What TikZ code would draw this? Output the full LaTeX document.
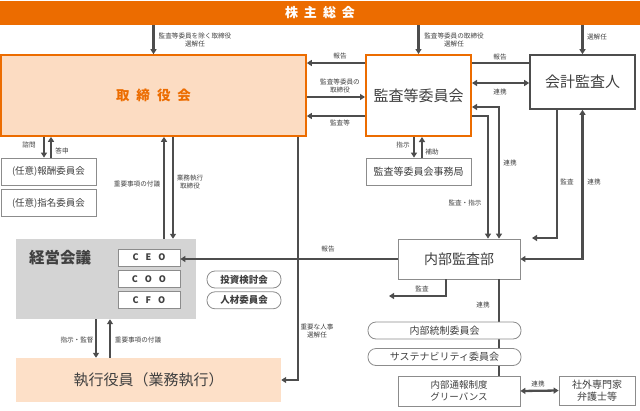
\documentclass[tikz,border=0pt]{standalone}
\usepackage{fontspec}
\setmainfont{Noto Sans CJK JP}
\usepackage{tikz}
\usetikzlibrary{arrows.meta}
\usetikzlibrary{positioning}
\definecolor{orangeM}{RGB}{236,108,0}
\definecolor{peach}{RGB}{252,220,194}
\definecolor{peachL}{RGB}{253,224,200}
\definecolor{txtgray}{RGB}{64,64,64}
\definecolor{linegray}{RGB}{77,77,77}
\definecolor{boxgray}{RGB}{140,140,140}
\definecolor{meetgray}{RGB}{212,212,212}
\tikzset{>={Triangle[length=5pt,width=6pt]}}

\begin{document}
\begin{tikzpicture}[x=1pt, y=-1pt,
	conn/.style={line width=2.3pt, draw=linegray},
	lbl/.style={font=\fontsize{6.6}{8}\selectfont, text=txtgray, inner sep=0pt, align=center},
	bigbox/.style={rectangle, inner sep=0pt, text=txtgray, font=\fontsize{15}{18}\selectfont},
	subbox/.style={rectangle, draw=boxgray, line width=0.8pt, fill=white, inner sep=0pt, text=txtgray, font=\fontsize{9.5}{12}\selectfont, align=center},
	pill/.style={subbox, rounded corners=8pt, minimum width=153pt, minimum height=17pt},
	rolebox/.style={subbox, minimum width=62pt, minimum height=17pt, font=\fontsize{9}{10}\selectfont\bfseries}]
	\useasboundingbox (0,0) rectangle (640,410);

	\node[fill=orangeM, minimum width=640pt, minimum height=24pt, inner sep=0pt, text=white, font=\fontsize{13}{15}\selectfont\bfseries] (soukai) at (320,13) {株\hspace{6pt}主\hspace{6pt}総\hspace{6pt}会};
	\node[bigbox, draw=orangeM, line width=1.6pt, fill=peach, minimum width=305pt, minimum height=81pt, text=orangeM, font=\fontsize{13.5}{15}\selectfont\bfseries] (tori) at (153.5,95.5) {取\hspace{7pt}締\hspace{7pt}役\hspace{7pt}会};
	\node[bigbox, draw=orangeM, line width=2pt, fill=white, minimum width=105pt, minimum height=81pt] (kansa) at (418.5,95.5) {監査等委員会};
	\node[bigbox, draw=linegray, line width=1.6pt, fill=white, minimum width=105pt, minimum height=54pt] (kaikei) at (582.5,82) {会計監査人};
	\node[subbox, minimum width=95pt, minimum height=27pt] (hoshu) at (48.5,171.5) {(任意)報酬委員会};
	\node[subbox, minimum width=95pt, minimum height=27pt] (shimei) [below=4pt of hoshu] {(任意)指名委員会};
	\node[subbox, minimum width=105pt, minimum height=27pt, font=\fontsize{10}{12}\selectfont] (jimu) at (418.5,171.5) {監査等委員会事務局};
	\node[fill=meetgray, minimum width=180pt, minimum height=80pt, inner sep=0pt] (keiei) at (106,279) {};
	\node[bigbox, font=\fontsize{15.5}{18}\selectfont\bfseries] (keieititle) at (60,258) {経営会議};
	\node[rolebox] (ceo) at (149,257.5) {C\hspace{7pt}E\hspace{7pt}O};
	\node[rolebox] (coo) [below=3.5pt of ceo] {C\hspace{7pt}O\hspace{7pt}O};
	\node[rolebox] (cfo) [below=3.5pt of coo] {C\hspace{7pt}F\hspace{7pt}O};
	\node[pill, minimum width=74pt, font=\fontsize{9.5}{11}\selectfont\bfseries] (kento) at (244,279.5) {投資検討会};
	\node[pill, minimum width=74pt, font=\fontsize{9.5}{11}\selectfont\bfseries] (jinzai) [below=3pt of kento] {人材委員会};
	\node[bigbox, fill=peachL, minimum width=265pt, minimum height=44pt] (shikko) at (148.5,380) {執行役員（業務執行）};
	\node[subbox, minimum width=122pt, minimum height=40pt, font=\fontsize{14}{16}\selectfont] (naibu) at (459,259) {内部監査部};
	\node[subbox, minimum width=122pt, minimum height=30pt] (tsuho) at (459,391) {内部通報制度\\グリーバンス};
	\node[subbox, minimum width=76pt, minimum height=29pt, font=\fontsize{10}{12.5}\selectfont] (gaibu) at (597,390.5) {社外専門家\\弁護士等};

	\coordinate (rowA) at (0,63);
	\coordinate (rowB) at (0,83);
	\coordinate (rowC) at (0,97);
	\coordinate (rowD) at (0,107);
	\coordinate (rowE) at (0,116);
	\coordinate (colA) at (44,0);
	\coordinate (colB) at (51,0);
	\coordinate (colC) at (96,0);
	\coordinate (colD) at (110,0);
	\coordinate (colE) at (164,0);
	\coordinate (colF) at (173,0);
	\coordinate (colG) at (298,0);
	\coordinate (colH) at (414,0);
	\coordinate (colI) at (422,0);
	\coordinate (colJ) at (446,0);
	\coordinate (colK) at (488,0);
	\coordinate (colL) at (499,0);
	\coordinate (colM) at (557,0);
	\coordinate (kansaend) at (532,238);
	\coordinate (auditend) at (389,296);

	\draw[conn, ->] (soukai.south -| tori.north) -- (tori.north);
	\draw[conn, ->] (soukai.south -| kansa.north) -- (kansa.north);
	\draw[conn, ->] (soukai.south -| kaikei.north) -- (kaikei.north);
	\draw[conn, ->] (kansa.west |- rowA) -- (tori.east |- rowA);
	\draw[conn, ->] (tori.east |- rowC) -- (kansa.west |- rowC);
	\draw[conn, ->] (kansa.west |- rowE) -- (tori.east |- rowE);
	\draw[conn] (kaikei.west |- rowA) -- (kansa.east |- rowA);
	\draw[conn, <->] (kansa.east |- rowB) -- (kaikei.west |- rowB);
	\draw[conn, <->] (kansa.east |- rowD) -| (naibu.north -| colL);
	\draw[conn, ->] (kansa.east |- rowE) -| (naibu.north -| colK);
	\draw[conn, ->] (kaikei.south -| colM) |- (kansaend);
	\draw[conn, <->] (kaikei.south) |- (naibu.east);
	\draw[conn, ->] (tori.south -| colA) -- (hoshu.north -| colA);
	\draw[conn, <-] (tori.south -| colB) -- (hoshu.north -| colB);
	\draw[conn, <-] (tori.south -| colE) -- (keiei.north -| colE);
	\draw[conn, ->] (tori.south -| colF) -- (keiei.north -| colF);
	\draw[conn, ->] (tori.south -| colG) |- (shikko.east);
	\draw[conn, ->] (kansa.south -| colH) -- (jimu.north -| colH);
	\draw[conn, <-] (kansa.south -| colI) -- (jimu.north -| colI);
	\draw[conn, ->] (naibu.west) -- (naibu.west -| ceo.east);
	\draw[conn, ->] (naibu.south -| colJ) |- (auditend);
	\draw[conn] (naibu.south -| colL) -- (tsuho.north -| colL);
	\draw[conn, ->] (keiei.south -| colC) -- (shikko.north -| colC);
	\draw[conn, <-] (keiei.south -| colD) -- (shikko.north -| colD);
	\draw[conn, <->] (tsuho.east) -- (gaibu.west);

	\node[pill, font=\fontsize{10}{12}\selectfont] (naitou) at (444.5,330.5) {内部統制委員会};
	\node[pill, font=\fontsize{10}{12}\selectfont] (sustain) at (444.5,357) {サステナビリティ委員会};

	\node[lbl] (l1) at (195,40) {監査等委員を除く取締役\\選解任};
	\node[lbl] (l2) at (454,40) {監査等委員の取締役\\選解任};
	\node[lbl] (l3) at (597,37) {選解任};
	\node[lbl] (l4) at (340,56) {報告};
	\node[lbl] (l5) at (340,86) {監査等委員の\\取締役};
	\node[lbl] (l6) at (340,123) {監査等};
	\node[lbl] (l7) at (500,57) {報告};
	\node[lbl] (l8) at (500,92) {連携};
	\node[lbl] (l9) at (29,145) {諮問};
	\node[lbl] (l10) at (62,151) {答申};
	\node[lbl] (l11) at (137,184) {重要事項の付議};
	\node[lbl] (l12) at (190,182) {業務執行\\取締役};
	\node[lbl] (l13) at (403,145) {指示};
	\node[lbl] (l14) at (432,152) {補助};
	\node[lbl] (l15) at (510,163) {連携};
	\node[lbl] (l16) at (465,203) {監査・指示};
	\node[lbl] (l17) at (567,182) {監査};
	\node[lbl] (l18) at (594,182) {連携};
	\node[lbl] (l19) at (328,249) {報告};
	\node[lbl] (l20) at (422,289) {監査};
	\node[lbl] (l21) at (483,305) {連携};
	\node[lbl] (l22) at (317,331) {重要な人事\\選解任};
	\node[lbl] (l23) at (77,340) {指示・監督};
	\node[lbl] (l24) at (138,340) {重要事項の付議};
	\node[lbl] (l25) at (538,384) {連携};
\end{tikzpicture}
\end{document}
